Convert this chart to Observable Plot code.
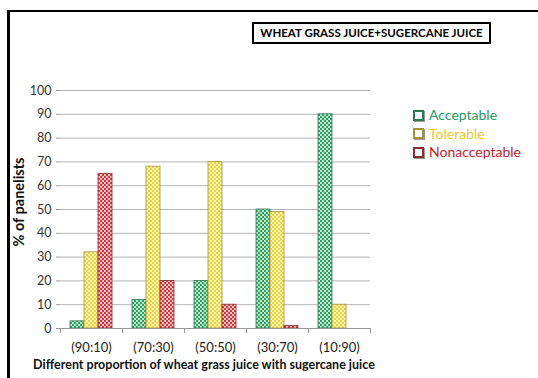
<!DOCTYPE html>
<html><head><meta charset="utf-8">
<script src="https://cdn.jsdelivr.net/npm/d3@7"></script>
<script src="https://cdn.jsdelivr.net/npm/@observablehq/plot@0.6"></script>
<style>
html,body{margin:0;padding:0;background:#fff;overflow:hidden;}
#wrap{position:relative;width:538px;height:378px;overflow:hidden;font-family:Lato,"Open Sans",sans-serif;}
#frame{position:absolute;left:7px;top:10px;width:600px;height:400px;border-left:3px solid #000;border-top:2px solid #000;}
#title{position:absolute;left:252px;top:22px;width:235px;height:18px;border:2px solid #000;font-weight:bold;font-size:11.5px;line-height:18px;text-align:center;color:#000;white-space:nowrap;}
#legend{position:absolute;left:413px;top:106px;font-size:14px;line-height:18.5px;}
#legend div{display:flex;align-items:center;white-space:nowrap;}
#legend .box{display:inline-block;width:7px;height:7px;border:2px solid;margin-right:5px;box-shadow:1px 1px 0 #999;}
#chart{position:absolute;left:0;top:0;}
</style></head>
<body>
<div id="wrap">
<div id="frame"></div>
<div id="chart"></div>
<div id="title">WHEAT GRASS JUICE+SUGERCANE JUICE</div>
<div id="legend"></div>
</div>
<script>
const categories = ["(90:10)", "(70:30)", "(50:50)", "(30:70)", "(10:90)"];
const seriesNames = ["Acceptable", "Tolerable", "Nonacceptable"];
const acceptable = [3, 12, 20, 50, 90];
const tolerable = [32, 68, 70, 49, 10];
const nonacceptable = [65, 20, 10, 1, 0];
const yTicks = [0, 10, 20, 30, 40, 50, 60, 70, 80, 90, 100];

const seriesValues = [acceptable, tolerable, nonacceptable];
const data = [];
categories.forEach((c, i) => seriesNames.forEach((s, j) => data.push({cat: c, series: s, value: seriesValues[j][i]})));

const styles = {
  Acceptable: {a: "#2f9e63", b: "#bfe8cf", stroke: "#2b7a52", text: "#279a60", id: "patA"},
  Tolerable: {a: "#ecd23c", b: "#fff6b8", stroke: "#a8903a", text: "#f0c62a", id: "patT"},
  Nonacceptable: {a: "#d8323a", b: "#f7c9c9", stroke: "#8e2a2e", text: "#c0242c", id: "patN"}
};

const half = (370 - 60) / categories.length / 2;

const plot = Plot.plot({
  width: 538,
  height: 378,
  marginLeft: 60,
  marginRight: 168,
  marginTop: 90,
  marginBottom: 50,
  style: {fontFamily: "Lato, 'Open Sans', sans-serif", background: "transparent"},
  fx: {domain: categories, padding: 0, label: null},
  x: {domain: seriesNames, paddingInner: 0, paddingOuter: 0.65, axis: null},
  y: {domain: [0, 100], label: null},
  color: {type: "identity"},
  marks: [
    Plot.gridY(yTicks, {stroke: "#b5b5b5", strokeOpacity: 1}),
    Plot.axisY(yTicks, {tickSize: 4, tickPadding: 5, fontSize: 12.5, color: "#333", stroke: "#999"}),
    Plot.ruleX([{cat: categories[0]}], {fx: "cat", dx: -half, stroke: "#aaa"}),
    Plot.barY(data, {
      fx: "cat", x: "series", y: "value",
      fill: d => `url(#${styles[d.series].id})`,
      stroke: d => styles[d.series].stroke,
      strokeWidth: 0.8
    }),
    Plot.ruleY([0], {stroke: "#999"}),
    Plot.axisFx({anchor: "bottom", tickSize: 0, tickPadding: 14, fontSize: 13, color: "#222", label: null}),
    Plot.axisFx({anchor: "bottom", tickSize: 5, dx: -half, tickFormat: () => "", stroke: "#999", label: null}),
    Plot.axisFx({anchor: "bottom", ticks: [categories[categories.length - 1]], tickSize: 5, dx: half, tickFormat: () => "", stroke: "#999", label: null})
  ]
});

// patterns
const defs = d3.select(plot).insert("defs", ":first-child");
for (const s of seriesNames) {
  const st = styles[s];
  const p = defs.append("pattern").attr("id", st.id).attr("patternUnits", "userSpaceOnUse").attr("width", 4).attr("height", 4);
  p.append("rect").attr("width", 4).attr("height", 4).attr("fill", st.b);
  p.append("rect").attr("width", 2).attr("height", 2).attr("fill", st.a);
  p.append("rect").attr("x", 2).attr("y", 2).attr("width", 2).attr("height", 2).attr("fill", st.a);
}

// axis titles
const svg = d3.select(plot);
svg.append("text").attr("transform", "translate(24,202) rotate(-90)").attr("text-anchor", "middle")
  .attr("font-weight", "bold").attr("font-size", 14.5).attr("fill", "#111").text("% of panelists");
svg.append("text").attr("x", 204).attr("y", 369).attr("text-anchor", "middle")
  .attr("font-weight", "bold").attr("font-size", 12.5).attr("fill", "#111")
  .text("Different proportion of wheat grass juice with sugercane juice");

document.getElementById("chart").appendChild(plot);

const legend = document.getElementById("legend");
for (const s of seriesNames) {
  const row = document.createElement("div");
  row.style.color = styles[s].text;
  const box = document.createElement("span");
  box.className = "box";
  box.style.borderColor = styles[s].stroke;
  row.appendChild(box);
  row.appendChild(document.createTextNode(s));
  legend.appendChild(row);
}
</script>
</body></html>
